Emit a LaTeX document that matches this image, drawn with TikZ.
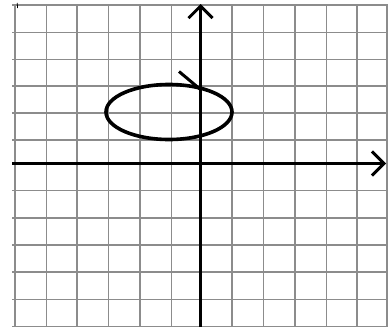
\documentclass[tikz,border=0pt]{standalone}
\usetikzlibrary{arrows.meta}
\tikzset{
  gridline/.style={draw=black!45, line width=1.6pt},
  axisline/.style={draw=black, line width=3pt, -{Straight Barb[length=12pt,width=24pt,line width=3pt]}},
  curveline/.style={draw=black, line width=3.6pt},
}
\begin{document}
\begin{tikzpicture}[x=1pt,y=-1pt]
\useasboundingbox (0,0) rectangle (388,327);
\fill[white] (0,0) rectangle (388,327);
% grid
\foreach \yy in {5,32.3,59.6,86,112.7,140,190.5,217.8,245,272,299.3,326.3}
  \draw[gridline] (12,\yy) -- (388,\yy);
\foreach \xx in {15,46.5,77,108.5,140,171.5,232,263.5,295,326.5,357,386.8}
  \draw[gridline] (\xx,5) -- (\xx,327);
% tiny mark top-left
\draw[black, line width=0.8pt] (17.2,3) -- (17.6,8);
% axes
\coordinate (xs) at (12,163.5);
\coordinate (xe) at (386,163.5);
\coordinate (ys) at (200.5,327);
\coordinate (ye) at (200.5,4);
\draw[axisline] (xs) -- (xe);
\draw[axisline] (ys) -- (ye);
% ellipse
\node[draw=none, inner sep=0pt, minimum width=0pt] (c) at (169,112) {};
\draw[curveline] (c) ellipse [x radius=63, y radius=27.5];
% diagonal stroke
\coordinate (d1) at (179,71.5);
\coordinate (d2) at (200.5,89.5);
\draw[black, line width=3pt] (d1) -- (d2);
\end{tikzpicture}
\end{document}
